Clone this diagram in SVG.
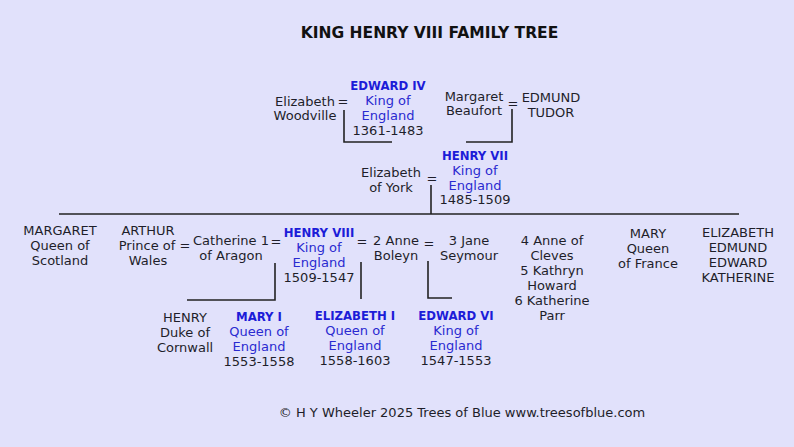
<svg xmlns="http://www.w3.org/2000/svg" width="794" height="447" viewBox="0 0 794 447">
<style>
text{font-family:"DejaVu Sans",sans-serif;font-size:13px;fill:#1e1e2a;text-anchor:middle}
.t{font-weight:bold;font-size:15.5px;fill:#111}
.n{font-family:"DejaVu Sans Condensed","DejaVu Sans",sans-serif;font-weight:bold;fill:#1c1cd8}
.b{fill:#2a2ad0}
.l{fill:none;stroke:#222;stroke-width:1.6}
</style>
<rect width="794" height="447" fill="#e1e1fb"/>
<text class="t" x="429.5" y="38">KING HENRY VIII FAMILY TREE</text>
<g id="connectors">
<path class="l" d="M344 110V142H392"/>
<path class="l" d="M512 109V142H466"/>
<path class="l" d="M431 185V214"/>
<path class="l" d="M59 214H739"/>
<path class="l" d="M275 263V300H187"/>
<path class="l" d="M361 262V299"/>
<path class="l" d="M428 261V298H452"/>
</g>
<g id="elizabeth-woodville"><text x="305" y="106">Elizabeth</text><text x="305" y="120">Woodville</text></g>
<text x="343" y="106">=</text>
<g id="edward-iv"><text class="n" x="388" y="90">EDWARD IV</text><text class="b" x="388" y="105">King of</text><text class="b" x="388" y="120">England</text><text x="388" y="135">1361-1483</text></g>
<g id="margaret-beaufort"><text x="474" y="101">Margaret</text><text x="474" y="115">Beaufort</text></g>
<text x="513" y="108">=</text>
<g id="edmund-tudor"><text x="551" y="102">EDMUND</text><text x="551" y="117">TUDOR</text></g>
<g id="elizabeth-york"><text x="391" y="177">Elizabeth</text><text x="391" y="192">of York</text></g>
<text x="432" y="183">=</text>
<g id="henry-vii"><text class="n" x="475" y="160">HENRY VII</text><text class="b" x="475" y="175">King of</text><text class="b" x="475" y="190">England</text><text x="475" y="204">1485-1509</text></g>
<g id="margaret"><text x="60" y="235">MARGARET</text><text x="60" y="250">Queen of</text><text x="60" y="265">Scotland</text></g>
<g id="arthur"><text x="148" y="235">ARTHUR</text><text x="147" y="250">Prince of</text><text x="148" y="265">Wales</text></g>
<text x="185" y="250">=</text>
<g id="catherine-aragon"><text x="231" y="245">Catherine 1</text><text x="231" y="260">of Aragon</text></g>
<text x="276" y="246">=</text>
<g id="henry-viii"><text class="n" x="319" y="237">HENRY VIII</text><text class="b" x="319" y="252">King of</text><text class="b" x="319" y="267">England</text><text x="319" y="282">1509-1547</text></g>
<text x="362" y="246">=</text>
<g id="anne-boleyn"><text x="396" y="245">2 Anne</text><text x="396" y="260">Boleyn</text></g>
<text x="429" y="248">=</text>
<g id="jane-seymour"><text x="469" y="245">3 Jane</text><text x="469" y="260">Seymour</text></g>
<g id="other-wives"><text x="552" y="245">4 Anne of</text><text x="552" y="260">Cleves</text><text x="552" y="275">5 Kathryn</text><text x="552" y="290">Howard</text><text x="552" y="305">6 Katherine</text><text x="552" y="320">Parr</text></g>
<g id="mary-france"><text x="648" y="238">MARY</text><text x="648" y="253">Queen</text><text x="648" y="268">of France</text></g>
<g id="siblings"><text x="738" y="237">ELIZABETH</text><text x="738" y="252">EDMUND</text><text x="738" y="267">EDWARD</text><text x="738" y="282">KATHERINE</text></g>
<g id="henry-cornwall"><text x="185" y="322">HENRY</text><text x="185" y="337">Duke of</text><text x="185" y="352">Cornwall</text></g>
<g id="mary-i"><text class="n" x="259" y="321">MARY I</text><text class="b" x="259" y="336">Queen of</text><text class="b" x="259" y="351">England</text><text x="259" y="366">1553-1558</text></g>
<g id="elizabeth-i"><text class="n" x="355" y="320">ELIZABETH I</text><text class="b" x="355" y="335">Queen of</text><text class="b" x="355" y="350">England</text><text x="355" y="365">1558-1603</text></g>
<g id="edward-vi"><text class="n" x="456" y="320">EDWARD VI</text><text class="b" x="456" y="335">King of</text><text class="b" x="456" y="350">England</text><text x="456" y="365">1547-1553</text></g>
<text x="462" y="417">© H Y Wheeler 2025 Trees of Blue www.treesofblue.com</text>
</svg>
